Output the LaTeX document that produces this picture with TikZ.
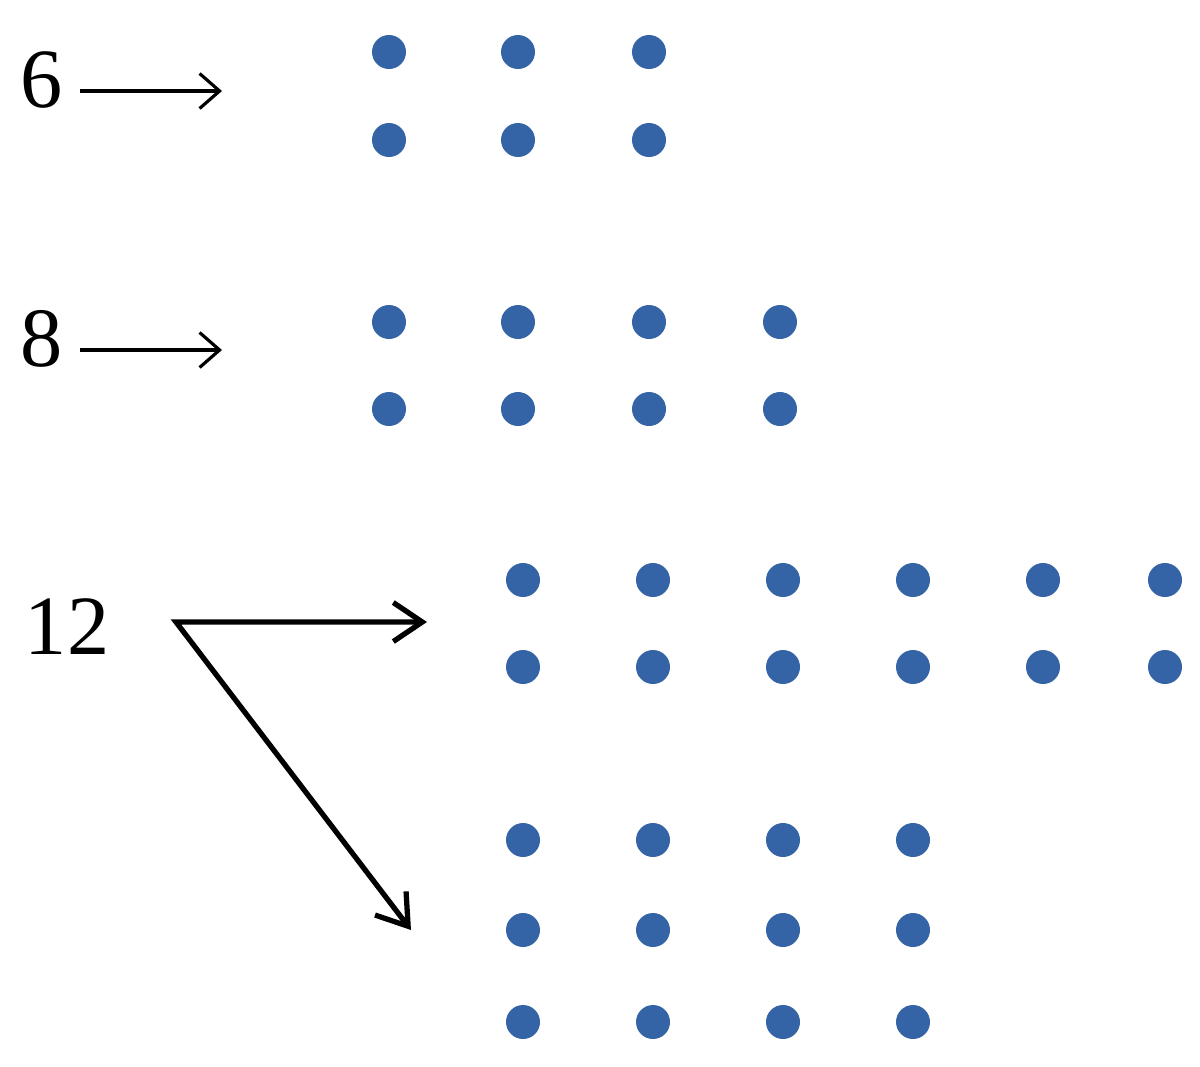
\documentclass[tikz,border=0pt]{standalone}
\usepackage{fontspec}
\setmainfont{Liberation Serif}
\usetikzlibrary{arrows.meta}
\definecolor{dotblue}{RGB}{52,99,166}
\begin{document}
\begin{tikzpicture}[x=0.02cm,y=-0.02cm,
  dot/.style={circle,fill=dotblue,inner sep=0pt,minimum size=0.68cm},
  lbl/.style={font=\fontsize{48}{52}\selectfont,inner sep=0pt,anchor=center},
  thinarr/.style={-{Straight Barb[length=0.40cm,width=0.70cm]},line width=1.8pt},
  thickhead/.tip={Straight Barb[length=0.58cm,width=0.78cm]},
  thickarr/.style={{thickhead}-{thickhead},line width=3pt,line join=miter}]
\useasboundingbox (0,0) rectangle (1200,1066);
% labels
\node[lbl] (n6) at (42,80) {6};
\node[lbl] (n8) at (42,339) {8};
\node[lbl] (n12) at (67,627) {12};
% arrow coordinates
\coordinate (a6s) at (80,91);
\coordinate (a6e) at (222,91);
\coordinate (a8s) at (80,350);
\coordinate (a8e) at (222,350);
\coordinate (a12s) at (176,622);
\coordinate (a12h) at (427,622);
\coordinate (a12d) at (411,930);
\draw[thinarr] (a6s) -- (a6e);
\draw[thinarr] (a8s) -- (a8e);
\draw[thickarr] (a12h) -- (a12s) -- (a12d);
% group 6
\foreach \x [count=\i] in {389,518,649}{
  \node[dot] (g6a\i) at (\x,52) {};
  \node[dot] (g6b\i) at (\x,140) {};
}
% group 8
\foreach \x [count=\i] in {389,518,649,780}{
  \node[dot] (g8a\i) at (\x,322) {};
  \node[dot] (g8b\i) at (\x,409) {};
}
% group 12 (2x6)
\foreach \x [count=\i] in {523,653,783,913,1043,1165}{
  \node[dot] (g12a\i) at (\x,580) {};
  \node[dot] (g12b\i) at (\x,667) {};
}
% group 12 (3x4)
\foreach \x [count=\i] in {523,653,783,913}{
  \node[dot] (g12c\i) at (\x,840) {};
  \node[dot] (g12d\i) at (\x,930) {};
  \node[dot] (g12e\i) at (\x,1022) {};
}
\end{tikzpicture}
\end{document}
